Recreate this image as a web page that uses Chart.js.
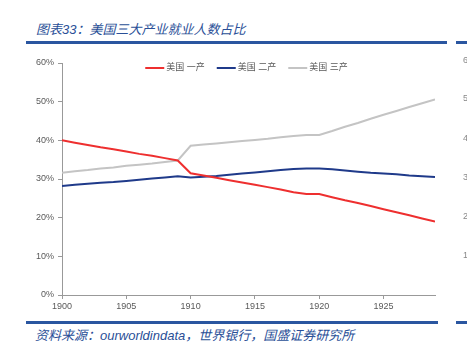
<!DOCTYPE html>
<html>
<head>
<meta charset="utf-8">
<script src="https://cdn.jsdelivr.net/npm/chart.js@4/dist/chart.umd.min.js"></script>
<style>
  body { margin: 0; background: #fff; }
  #page { position: relative; width: 467px; height: 353px; overflow: hidden; background: #fff; }
  .title { position: absolute; left: 36px; top: 19px; font: italic 13px 'Liberation Sans', 'Noto Sans CJK SC', sans-serif; color: #2a4f97; white-space: nowrap; }
  .source { position: absolute; left: 35px; top: 325px; font: italic 13px 'Liberation Sans', 'Noto Sans CJK SC', sans-serif; color: #2a4f97; white-space: nowrap; }
  .rule { position: absolute; height: 3px; background: #2a56a0; }
  .edge { position: absolute; left: 463px; font: 9px 'Liberation Sans', sans-serif; color: #888; }
  #wrap { position: absolute; left: 0; top: 50px; width: 467px; height: 270px; }
</style>
</head>
<body>
<div id="page">
  <div class="title">图表33：美国三大产业就业人数占比</div>
  <div class="rule" style="left:26px; top:41px; width:421px;"></div>
  <div class="rule" style="left:456px; top:41px; width:11px;"></div>
  <div id="wrap"><canvas id="chart"></canvas></div>
  <div class="rule" style="left:26px; top:321px; width:412px;"></div>
  <div class="rule" style="left:456px; top:321px; width:11px;"></div>
  <div class="source">资料来源：ourworldindata，世界银行，国盛证券研究所</div>
  <div class="edge" style="top:55px;">6</div>
  <div class="edge" style="top:93px;">5</div>
  <div class="edge" style="top:133px;">4</div>
  <div class="edge" style="top:172px;">3</div>
  <div class="edge" style="top:211px;">2</div>
  <div class="edge" style="top:250px;">1</div>
</div>
<script>
// Data
const years = [1900, 1901, 1902, 1903, 1904, 1905, 1906, 1907, 1908, 1909,
               1910, 1911, 1912, 1913, 1914, 1915, 1916, 1917, 1918, 1919,
               1920, 1921, 1922, 1923, 1924, 1925, 1926, 1927, 1928, 1929];
const primary = [40.0, 39.4, 38.8, 38.2, 37.7, 37.1, 36.5, 36.0, 35.4, 34.8,
                 31.5, 30.9, 30.3, 29.7, 29.1, 28.5, 27.9, 27.3, 26.6, 26.1,
                 26.1, 25.3, 24.5, 23.8, 23.0, 22.2, 21.4, 20.6, 19.8, 19.0];
const secondary = [28.2, 28.5, 28.8, 29.0, 29.2, 29.5, 29.8, 30.1, 30.4, 30.7,
                   30.4, 30.6, 30.8, 31.1, 31.4, 31.7, 32.0, 32.3, 32.6, 32.7,
                   32.7, 32.5, 32.2, 31.9, 31.6, 31.4, 31.2, 30.9, 30.7, 30.5];
const tertiary = [31.6, 32.0, 32.3, 32.7, 33.0, 33.4, 33.7, 34.0, 34.4, 34.8,
                  38.6, 38.9, 39.2, 39.5, 39.8, 40.1, 40.4, 40.8, 41.1, 41.4,
                  41.4, 42.4, 43.5, 44.5, 45.6, 46.6, 47.6, 48.6, 49.6, 50.6];
const seriesNames = ['美国 一产', '美国 二产', '美国 三产'];
const seriesColors = ['#ee2f2f', '#1f3a8a', '#c4c4c4'];

Chart.defaults.font.family = "'Liberation Sans', 'Noto Sans CJK SC', sans-serif";
Chart.defaults.font.size = 9;
Chart.defaults.color = '#595959';

const toPoints = arr => arr.map((v, i) => ({ x: years[i], y: v }));

const datasets = [primary, secondary, tertiary].map((arr, i) => ({
    label: seriesNames[i],
    data: toPoints(arr),
    borderColor: seriesColors[i],
    backgroundColor: seriesColors[i],
    borderWidth: 2,
    pointRadius: 0,
    tension: 0
}));

// one-row legend drawn inside the top of the plot area
const inlineLegend = {
    id: 'inlineLegend',
    afterDatasetsDraw(chart) {
        const { ctx, chartArea } = chart;
        const lineLen = 19, textGap = 2, itemGap = 12;
        ctx.save();
        ctx.font = "9px 'Liberation Sans', 'Noto Sans CJK SC', sans-serif";
        ctx.textBaseline = 'middle';
        ctx.textAlign = 'left';
        const items = chart.data.datasets.map(ds => ({
            text: ds.label, color: ds.borderColor,
            w: lineLen + textGap + ctx.measureText(ds.label).width
        }));
        const total = items.reduce((s, it) => s + it.w, 0) + itemGap * (items.length - 1);
        let x = (chartArea.left + chartArea.right) / 2 - 2 - total / 2;
        const y = chartArea.top + 5;
        items.forEach(it => {
            ctx.strokeStyle = it.color;
            ctx.lineWidth = 2;
            ctx.beginPath();
            ctx.moveTo(x, y);
            ctx.lineTo(x + lineLen, y);
            ctx.stroke();
            ctx.fillStyle = '#595959';
            ctx.fillText(it.text, x + lineLen + textGap, y);
            x += it.w + itemGap;
        });
        ctx.restore();
    }
};

new Chart(document.getElementById('chart'), {
    type: 'line',
    data: { datasets },
    plugins: [inlineLegend],
    options: {
        responsive: true,
        maintainAspectRatio: false,
        animation: false,
        layout: { padding: { left: 0, right: 32, top: 13, bottom: 0 } },
        plugins: {
            tooltip: { enabled: false },
            legend: { display: false }
        },
        scales: {
            x: {
                type: 'linear',
                min: 1900,
                max: 1929,
                afterFit: s => { s.height = 25; },
                grid: { drawOnChartArea: false, tickLength: 4, color: '#999' },
                border: { color: '#999' },
                ticks: {
                    stepSize: 5,
                    includeBounds: false,
                    padding: 2,
                    maxRotation: 0,
                    callback: v => String(v)
                }
            },
            y: {
                min: 0,
                max: 60,
                afterFit: s => { s.width = 62; },
                grid: { drawOnChartArea: false, tickLength: 4, color: '#999' },
                border: { color: '#999' },
                ticks: {
                    stepSize: 10,
                    padding: 4,
                    callback: v => v + '%'
                }
            }
        }
    }
});
</script>
</body>
</html>
